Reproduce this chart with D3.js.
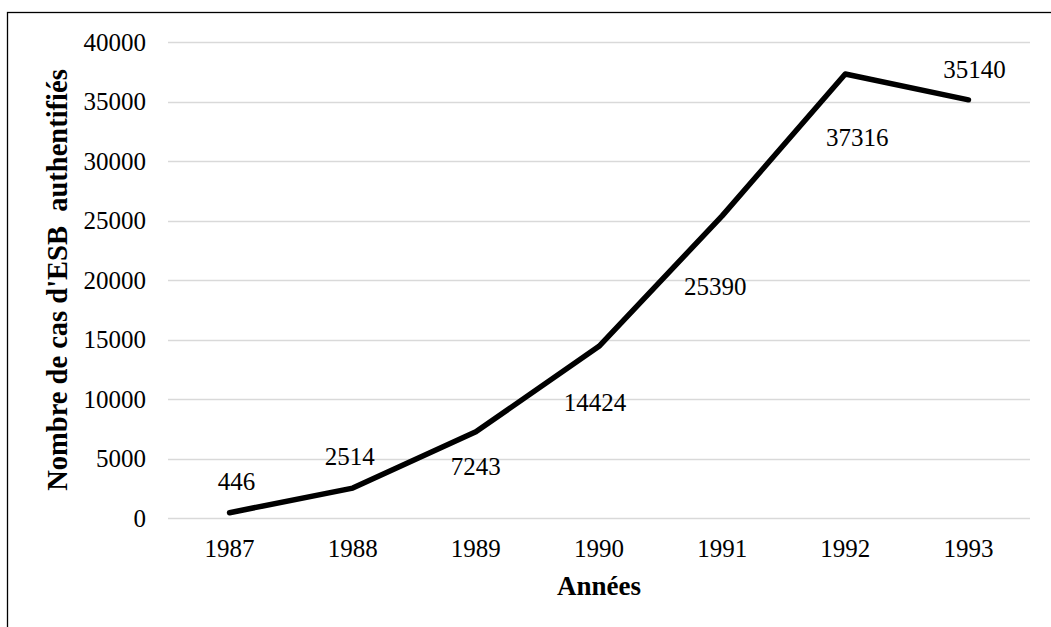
<!DOCTYPE html>
<html>
<head>
<meta charset="utf-8">
<script src="https://cdn.jsdelivr.net/npm/d3@7"></script>
<style>
  body { margin: 0; background: #fff; }
  text { font-family: "Liberation Serif", serif; fill: #000; }
</style>
</head>
<body>
<script>
// data
var years = ["1987", "1988", "1989", "1990", "1991", "1992", "1993"];
var cases = [446, 2514, 7243, 14424, 25390, 37316, 35140];
var yTicks = [0, 5000, 10000, 15000, 20000, 25000, 30000, 35000, 40000];

// label nudges (px) relative to each point, as placed in the original
var labelDx = [7, -3, 0, -4, -7, 12, 6];
var labelDy = [-31, -32, 34, 56, 70, 63, -31];

var width = 1051;
var height = 627;
var plot = {left: 168, right: 1030, top: 42, bottom: 518};

var svg = d3.select("body").append("svg")
    .attr("width", width)
    .attr("height", height);

// frame, open on the right and bottom like the cropped original
svg.append("rect")
    .attr("x", 7.5)
    .attr("y", 12.5)
    .attr("width", 1200)
    .attr("height", 800)
    .attr("fill", "none")
    .attr("stroke", "#000")
    .attr("stroke-width", 1.3);

var x = d3.scaleBand()
    .domain(years)
    .range([plot.left, plot.right]);

var y = d3.scaleLinear()
    .domain([0, 40000])
    .range([plot.bottom, plot.top]);

var cx = d => x(d) + x.bandwidth() / 2;

// gridlines
svg.append("g")
  .selectAll("line")
  .data(yTicks)
  .enter()
  .append("line")
    .attr("x1", plot.left)
    .attr("x2", plot.right)
    .attr("y1", d => Math.round(y(d)) + 0.5)
    .attr("y2", d => Math.round(y(d)) + 0.5)
    .attr("stroke", "#d9d9d9")
    .attr("stroke-width", 1.5);

// y tick labels
svg.append("g")
  .selectAll("text")
  .data(yTicks)
  .enter()
  .append("text")
    .attr("x", plot.left - 22)
    .attr("y", d => y(d))
    .attr("dy", "0.35em")
    .attr("text-anchor", "end")
    .style("font-size", "25px")
    .text(d => d);

// x tick labels
svg.append("g")
  .selectAll("text")
  .data(years)
  .enter()
  .append("text")
    .attr("x", d => cx(d))
    .attr("y", plot.bottom + 30)
    .attr("dy", "0.35em")
    .attr("text-anchor", "middle")
    .style("font-size", "25px")
    .text(d => d);

// the series
var line = d3.line()
    .x((d, i) => cx(years[i]))
    .y(d => y(d));

svg.append("path")
    .datum(cases)
    .attr("d", line)
    .attr("fill", "none")
    .attr("stroke", "#000")
    .attr("stroke-width", 5.5)
    .attr("stroke-linejoin", "round")
    .attr("stroke-linecap", "round");

// data labels
svg.append("g")
  .selectAll("text")
  .data(cases)
  .enter()
  .append("text")
    .attr("x", (d, i) => cx(years[i]) + labelDx[i])
    .attr("y", (d, i) => y(d) + labelDy[i])
    .attr("dy", "0.35em")
    .attr("text-anchor", "middle")
    .style("font-size", "25px")
    .text(d => d);

// axis titles
svg.append("text")
    .attr("x", (plot.left + plot.right) / 2)
    .attr("y", 586)
    .attr("dy", "0.35em")
    .attr("text-anchor", "middle")
    .style("font-size", "27px")
    .style("font-weight", "bold")
    .text("Années");

svg.append("text")
    .attr("transform", `translate(57,${(plot.top + plot.bottom) / 2}) rotate(-90)`)
    .attr("dy", "0.35em")
    .attr("text-anchor", "middle")
    .style("font-size", "28.5px")
    .style("font-weight", "bold")
    .style("white-space", "pre")
    .text("Nombre de cas d'ESB  authentifiés");
</script>
</body>
</html>
